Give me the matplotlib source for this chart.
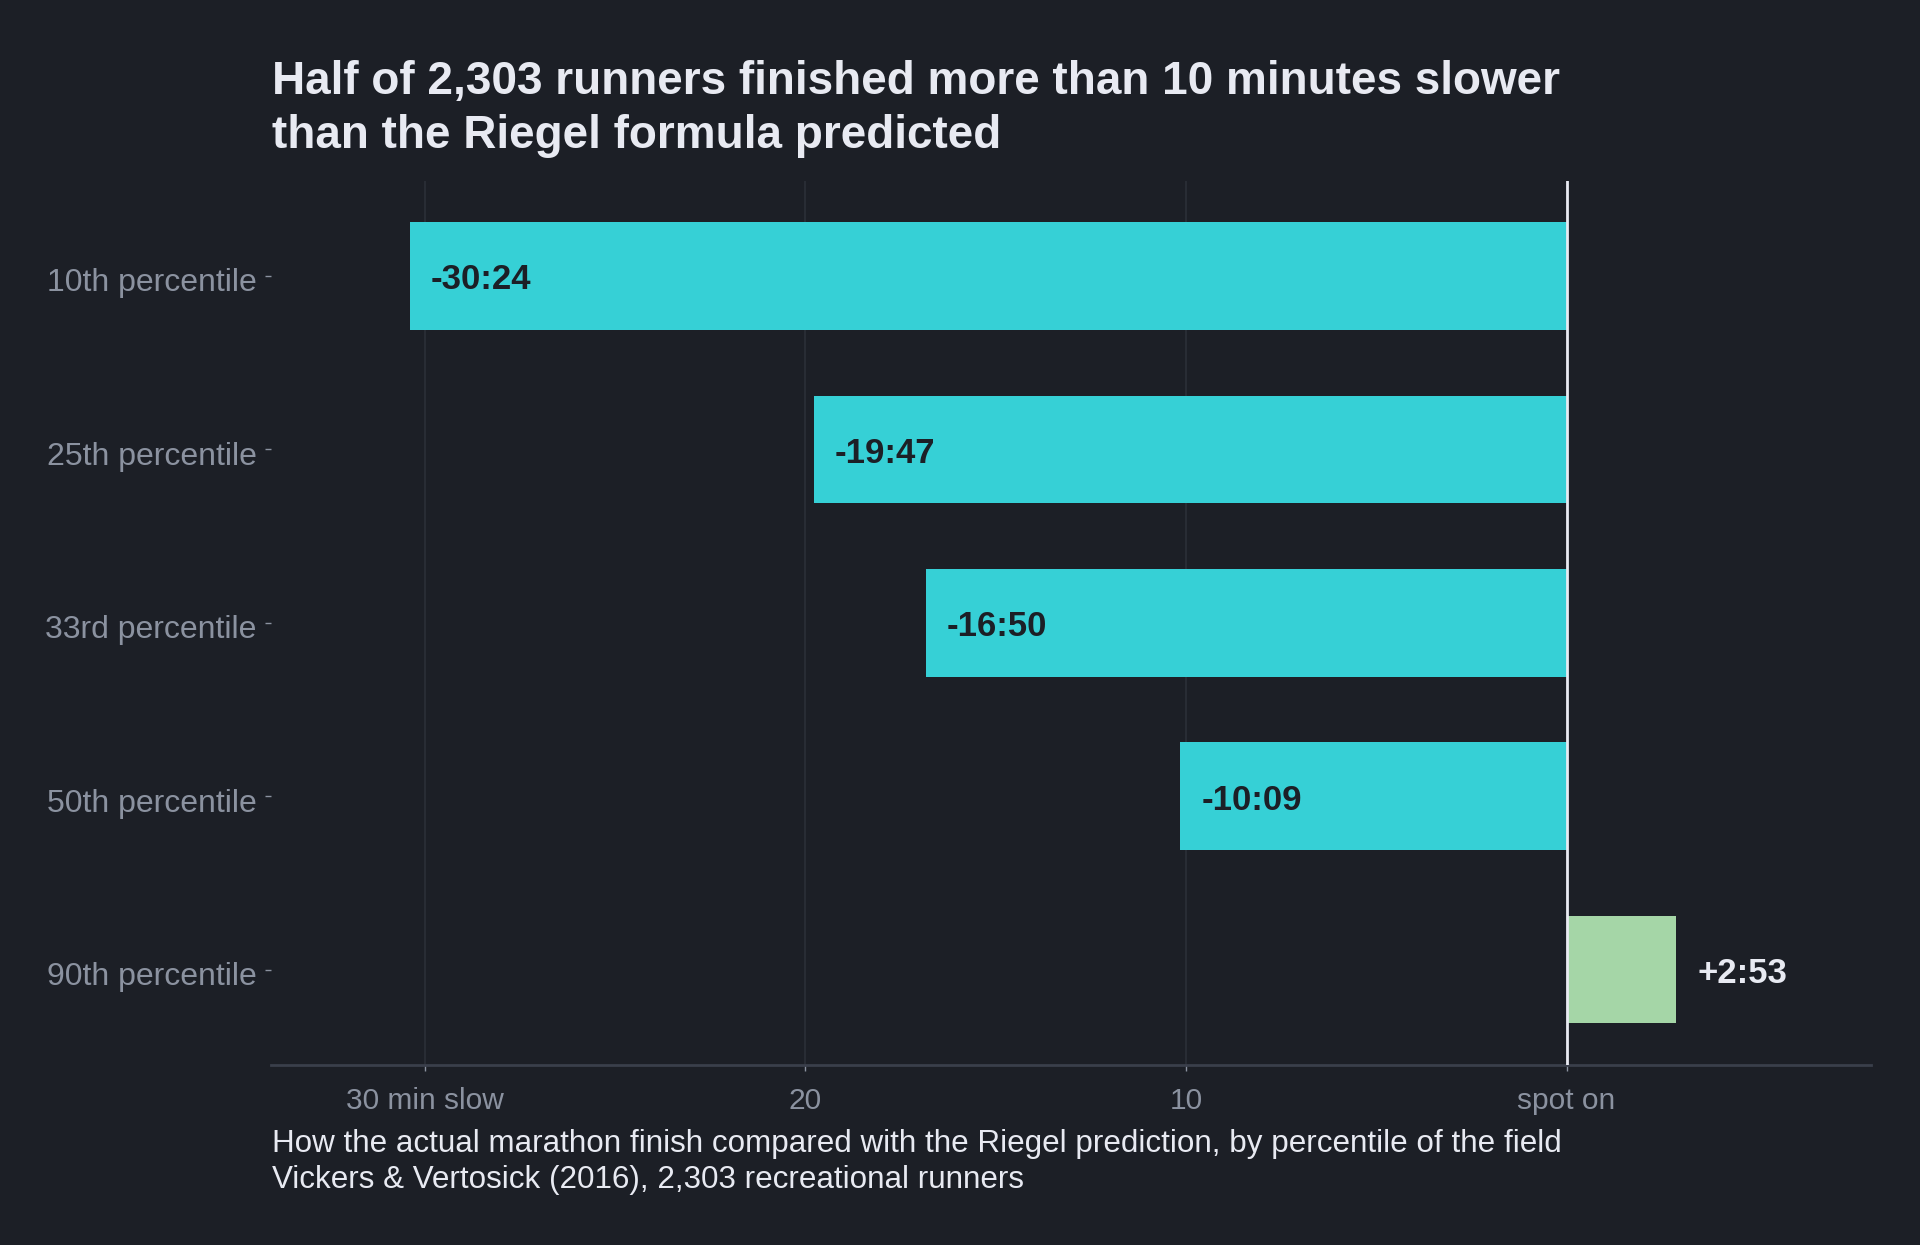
import matplotlib
matplotlib.use("Agg")
import matplotlib.pyplot as plt
from matplotlib.transforms import ScaledTranslation

# percentiles of the field, actual finish vs Riegel prediction (minutes)
percentiles = ["10th percentile", "25th percentile", "33rd percentile",
               "50th percentile", "90th percentile"]
diff_labels = ["-30:24", "-19:47", "-16:50", "-10:09", "+2:53"]
diff_minutes = [-30.4, -19.78, -16.83, -10.15, 2.88]

x_ticks = [-30, -20, -10, 0]
x_tick_labels = ["30 min slow", "20", "10", "spot on"]

BG = "#1c1f26"
SLOW = "#36d0d6"
FAST = "#a5d6a7"
TEXT = "#e8eaf2"
MUTED = "#8b92a0"

plt.rcParams["font.family"] = ["Liberation Sans", "DejaVu Sans"]

fig = plt.figure(figsize=(19.2, 12.45), dpi=100, facecolor=BG)
ax = fig.add_axes([0.141, 0.1446, 0.8335, 0.7104])
ax.set_facecolor(BG)

ypos = list(range(len(percentiles)))
colors = [SLOW if v < 0 else FAST for v in diff_minutes]
ax.barh(ypos, diff_minutes, height=0.62, color=colors, zorder=2)

for y, v, lab in zip(ypos, diff_minutes, diff_labels):
    if v < 0:
        ax.annotate(lab, (v, y), xytext=(21, -4), textcoords="offset pixels",
                    ha="left", va="center", fontsize=25, fontweight="bold",
                    color=BG, zorder=3)
    else:
        ax.annotate(lab, (v, y), xytext=(21, -4), textcoords="offset pixels",
                    ha="left", va="center", fontsize=25, fontweight="bold",
                    color=TEXT, zorder=3)

ax.axvline(0, color=TEXT, lw=2, zorder=4)

ax.set_xlim(-34.05, 8.0)
ax.set_ylim(4.55, -0.55)
ax.set_xticks(x_ticks)
ax.set_xticklabels(x_tick_labels)
ax.set_yticks(ypos)
ax.set_yticklabels(percentiles)
ax.tick_params(axis="both", colors=MUTED, length=4, width=1, pad=6)
ax.tick_params(axis="x", pad=12, labelsize=21.5)
ax.tick_params(axis="y", labelsize=23)
shift = ScaledTranslation(0, -4 / 100, fig.dpi_scale_trans)
for t in ax.get_yticklabels():
    t.set_transform(t.get_transform() + shift)

ax.grid(axis="x", color="#2b2f38", lw=1.2, zorder=0)
ax.grid(axis="y", visible=False)
for s in ["top", "right", "left"]:
    ax.spines[s].set_visible(False)
ax.spines["bottom"].set_color("#3a3f4b")
ax.spines["bottom"].set_linewidth(2)

fig.text(0.1415, 0.952,
         "Half of 2,303 runners finished more than 10 minutes slower\n"
         "than the Riegel formula predicted",
         ha="left", va="top", fontsize=33, fontweight="bold", color=TEXT,
         linespacing=1.3)

fig.text(0.1415, 0.0747,
         "How the actual marathon finish compared with the Riegel prediction, "
         "by percentile of the field",
         ha="left", va="baseline", fontsize=22.6, color=TEXT)
fig.text(0.1415, 0.0458,
         "Vickers & Vertosick (2016), 2,303 recreational runners",
         ha="left", va="baseline", fontsize=22.6, color=TEXT)

fig.savefig("out.png", dpi=100, facecolor=BG)
